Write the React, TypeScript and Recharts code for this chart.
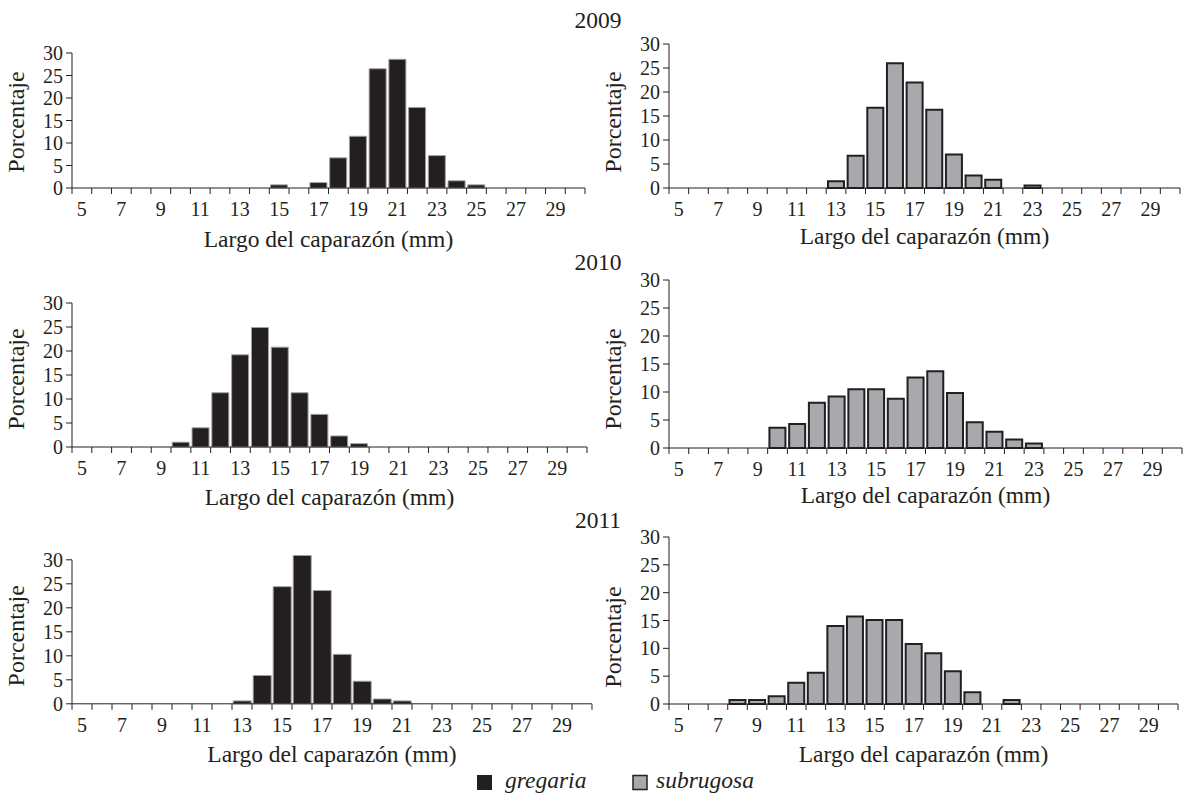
import React from 'react';
import { BarChart, Bar, XAxis, YAxis, ReferenceLine } from 'recharts';

// ---------- data ----------
const lengths = [5, 6, 7, 8, 9, 10, 11, 12, 13, 14, 15, 16, 17, 18, 19, 20, 21, 22, 23, 24, 25, 26, 27, 28, 29, 30];
const xTickLabels = [5, 7, 9, 11, 13, 15, 17, 19, 21, 23, 25, 27, 29];
const yTicks = [0, 5, 10, 15, 20, 25, 30];
const years = ['2009', '2010', '2011'];
const seriesNames = ['gregaria', 'subrugosa'];
const xTitle = 'Largo del caparazón (mm)';
const yTitle = 'Porcentaje';

const gregaria2009 = [0, 0, 0, 0, 0, 0, 0, 0, 0, 0, 0.7, 0, 1.2, 6.7, 11.5, 26.5, 28.6, 17.9, 7.2, 1.6, 0.7, 0, 0, 0, 0, 0];
const subrugosa2009 = [0, 0, 0, 0, 0, 0, 0, 0, 1.4, 6.7, 16.7, 26.0, 22.0, 16.3, 7.0, 2.6, 1.7, 0, 0.5, 0, 0, 0, 0, 0, 0, 0];
const gregaria2010 = [0, 0, 0, 0, 0, 1.0, 4.0, 11.3, 19.2, 24.9, 20.8, 11.3, 6.8, 2.3, 0.7, 0, 0, 0, 0, 0, 0, 0, 0, 0, 0, 0];
const subrugosa2010 = [0, 0, 0, 0, 0, 3.6, 4.3, 8.1, 9.2, 10.5, 10.5, 8.8, 12.6, 13.7, 9.8, 4.6, 2.9, 1.5, 0.8, 0, 0, 0, 0, 0, 0, 0];
const gregaria2011 = [0, 0, 0, 0, 0, 0, 0, 0, 0.6, 5.9, 24.4, 30.9, 23.6, 10.3, 4.7, 1.0, 0.6, 0, 0, 0, 0, 0, 0, 0, 0, 0];
const subrugosa2011 = [0, 0, 0, 0.7, 0.7, 1.4, 3.8, 5.6, 14.0, 15.7, 15.1, 15.1, 10.8, 9.1, 5.9, 2.1, 0, 0.7, 0, 0, 0, 0, 0, 0, 0, 0];

// ---------- styles ----------
const FONT = "'Liberation Serif', 'Times New Roman', Times, serif";
const INK = '#231f20';
const BLACK_FILL = '#231f20';
const BLACK_STROKE = '#a0a0a0';
const GRAY_FILL = '#a7a9ac';

type Cfg = {
  colLeft: number;
  x0: number;
  x1: number;
  yTop: number;
  yBot: number;
  yMax: number;
  values: number[];
  kind: 'g' | 's';
  titleOff: number;
  labelX: number;
  labelY: number;
};

const panels: Cfg[] = [
  { colLeft: 0, x0: 72, x1: 585, yTop: 53, yBot: 188, yMax: 30, values: gregaria2009, kind: 'g', titleOff: 59, labelX: 24, labelY: 122 },
  { colLeft: 600, x0: 669, x1: 1180, yTop: 44, yBot: 188, yMax: 30, values: subrugosa2009, kind: 's', titleOff: 56, labelX: 621, labelY: 122 },
  { colLeft: 0, x0: 72, x1: 587, yTop: 303, yBot: 447, yMax: 30, values: gregaria2010, kind: 'g', titleOff: 58, labelX: 24, labelY: 379 },
  { colLeft: 600, x0: 669, x1: 1182, yTop: 280, yBot: 448, yMax: 30, values: subrugosa2010, kind: 's', titleOff: 55, labelX: 621, labelY: 379 },
  { colLeft: 0, x0: 72, x1: 592, yTop: 560, yBot: 704, yMax: 31, values: gregaria2011, kind: 'g', titleOff: 58, labelX: 24, labelY: 636 },
  { colLeft: 600, x0: 669, x1: 1178, yTop: 537, yBot: 704, yMax: 30, values: subrugosa2011, kind: 's', titleOff: 58, labelX: 621, labelY: 637 },
];

const YW = 45;
const XH = 75;
const M_TOP = 16;
const M_RIGHT = 8;
const TICK = 6;
const TICK_MARGIN = 2;

function Panel({ cfg }: { cfg: Cfg }) {
  const mLeft = cfg.x0 - cfg.colLeft - YW;
  const width = cfg.x1 - cfg.colLeft + M_RIGHT;
  const pxPerUnit = (cfg.yBot - cfg.yTop) / 30;
  const plotTop = cfg.yBot - pxPerUnit * cfg.yMax;
  const divTop = plotTop - M_TOP;
  const height = M_TOP + (cfg.yBot - plotTop) + XH;
  const bw = (cfg.x1 - cfg.x0) / lengths.length;
  const data = lengths.map((l, i) => ({ len: String(l), v: cfg.values[i] }));

  const xTick = (props: any) => {
    const { x, y, payload, index } = props;
    const half = bw / 2;
    const axisY = y - TICK - TICK_MARGIN;
    const v = Number(payload.value);
    return (
      <g>
        <line x1={x - half} x2={x - half} y1={axisY} y2={axisY + TICK} stroke={INK} strokeWidth={1} />
        {index === lengths.length - 1 && (
          <line x1={x + half} x2={x + half} y1={axisY} y2={axisY + TICK} stroke={INK} strokeWidth={1} />
        )}
        {xTickLabels.includes(v) && (
          <text x={x} y={axisY + 28} textAnchor="middle" fontFamily={FONT} fontSize={20} fill={INK}>
            {v}
          </text>
        )}
      </g>
    );
  };

  const titleContent = () => (
    <text
      x={(cfg.x0 + cfg.x1) / 2 - cfg.colLeft}
      y={cfg.yBot - divTop + cfg.titleOff}
      textAnchor="middle"
      fontFamily={FONT}
      fontSize={23.5}
      fill={INK}
    >
      {xTitle}
    </text>
  );

  const yLabelContent = () => {
    const lx = cfg.labelX - cfg.colLeft;
    const ly = cfg.labelY - divTop;
    return (
      <text
        x={lx}
        y={ly}
        transform={`rotate(-90, ${lx}, ${ly})`}
        textAnchor="middle"
        fontFamily={FONT}
        fontSize={24}
        fill={INK}
      >
        {yTitle}
      </text>
    );
  };

  const isG = cfg.kind === 'g';

  return (
    <div style={{ position: 'absolute', left: cfg.colLeft, top: divTop }}>
      <BarChart
        width={width}
        height={height}
        data={data}
        margin={{ top: M_TOP, right: M_RIGHT, bottom: 0, left: mLeft }}
        barCategoryGap={isG ? '6%' : '9%'}
      >
        <XAxis
          dataKey="len"
          interval={0}
          tickLine={false}
          axisLine={{ stroke: INK, strokeWidth: 1 }}
          tickSize={TICK}
          tickMargin={TICK_MARGIN}
          height={XH}
          tick={xTick}
          label={{ value: xTitle, content: titleContent }}
        />
        <YAxis
          type="number"
          domain={[0, cfg.yMax]}
          ticks={yTicks}
          interval={0}
          minTickGap={0}
          width={YW}
          axisLine={false}
          tickLine={{ stroke: INK, strokeWidth: 1 }}
          tickSize={TICK}
          tickMargin={3}
          tick={{ fontFamily: FONT, fontSize: 20, fill: INK }}
          label={{ value: yTitle, content: yLabelContent }}
        />
        <Bar
          dataKey="v"
          fill={isG ? BLACK_FILL : GRAY_FILL}
          stroke={isG ? BLACK_STROKE : INK}
          strokeWidth={isG ? 1 : 2}
          isAnimationActive={false}
        />
        <ReferenceLine
          segment={[
            { x: '5', y: 0 },
            { x: '5', y: 30 },
          ]}
          position="start"
          stroke={INK}
          strokeWidth={1}
          ifOverflow="visible"
        />
      </BarChart>
    </div>
  );
}

const yearY = [28, 270, 528];

export default function App() {
  return (
    <div style={{ position: 'absolute', left: 0, top: 0, width: 1195, height: 796, background: '#fff', overflow: 'hidden' }}>
      {panels.map((p, i) => (
        <Panel key={i} cfg={p} />
      ))}
      <svg width={1195} height={796} style={{ position: 'absolute', left: 0, top: 0, pointerEvents: 'none' }}>
        {years.map((yr, i) => (
          <text key={yr} x={598} y={yearY[i]} textAnchor="middle" fontFamily={FONT} fontSize={23.5} fill={INK}>
            {yr}
          </text>
        ))}
        <rect x={477} y={775} width={15} height={15} fill={BLACK_FILL} />
        <text x={505} y={788} fontFamily={FONT} fontStyle="italic" fontSize={23.5} fill={INK}>
          {seriesNames[0]}
        </text>
        <rect x={633} y={775.5} width={14} height={14} fill={GRAY_FILL} stroke={INK} strokeWidth={1.5} />
        <text x={656} y={788} fontFamily={FONT} fontStyle="italic" fontSize={23.5} fill={INK}>
          {seriesNames[1]}
        </text>
      </svg>
    </div>
  );
}
